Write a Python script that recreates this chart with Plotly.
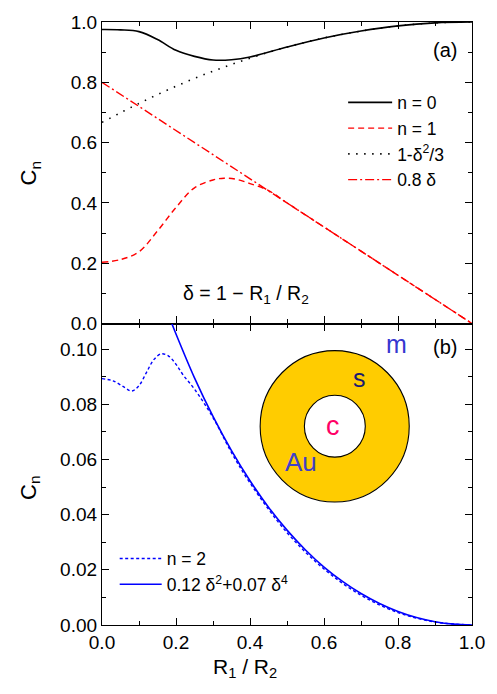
import plotly.graph_objects as go
from plotly.subplots import make_subplots

# ---- data ----
x_n0 = [0, 0.05, 0.1, 0.15, 0.2, 0.25, 0.3, 0.35, 0.4, 0.5, 0.6, 0.7, 0.8, 0.9, 1.0]
y_n0 = [0.975, 0.974, 0.968, 0.942, 0.906, 0.886, 0.874, 0.875, 0.884, 0.917, 0.947, 0.970, 0.987, 0.997, 1.0]

x_n1 = [0, 0.05, 0.1, 0.15, 0.2, 0.25, 0.3, 0.33, 0.36, 0.4, 0.45, 0.5, 0.6, 0.7, 0.8, 0.9, 1.0]
y_n1 = [0.203, 0.212, 0.238, 0.307, 0.385, 0.450, 0.476, 0.482, 0.479, 0.464, 0.441, 0.400, 0.320, 0.240, 0.160, 0.080, 0.0]

x_par = [0, 0.1, 0.2, 0.3, 0.4, 0.5, 0.6, 0.7, 0.8, 0.9, 1.0]
y_par = [0.667, 0.730, 0.787, 0.837, 0.880, 0.917, 0.947, 0.970, 0.987, 0.997, 1.0]

x_lin = [0, 1.0]
y_lin = [0.8, 0.0]

x_n2 = [0, 0.03, 0.06, 0.08, 0.1, 0.12, 0.14, 0.16, 0.18, 0.2, 0.22, 0.25, 0.3, 0.35,
        0.4, 0.5, 0.6, 0.7, 0.8, 0.9, 1.0]
y_n2 = [0.0893, 0.0885, 0.0862, 0.0848, 0.0868, 0.0915, 0.0962, 0.0983, 0.0975, 0.0945,
        0.0905, 0.0855, 0.0752, 0.0625, 0.0515, 0.0335, 0.0203, 0.0108, 0.0045, 0.0011, 0.0]

x_fit = [0.18, 0.2, 0.25, 0.3, 0.35, 0.4, 0.45, 0.5, 0.55, 0.6, 0.65, 0.7, 0.75, 0.8,
         0.85, 0.9, 0.95, 1.0]
y_fit = [0.1123, 0.1055, 0.0896, 0.0756, 0.0632, 0.0523, 0.0427, 0.0344, 0.0272, 0.0210,
         0.0158, 0.0114, 0.0078, 0.0049, 0.0027, 0.0012, 0.0003, 0.0]

x_ticks = [0.0, 0.2, 0.4, 0.6, 0.8, 1.0]
ya_ticks = [0.0, 0.2, 0.4, 0.6, 0.8, 1.0]
yb_ticks = [0.00, 0.02, 0.04, 0.06, 0.08, 0.10]

FONT = "Liberation Sans, Arial, Helvetica, sans-serif"

fig = make_subplots(rows=2, cols=1, shared_xaxes=True, vertical_spacing=0)

fig.add_trace(go.Scatter(x=x_n0, y=y_n0, mode="lines", name="n = 0",
                         line=dict(color="black", width=1.6, shape="spline"),
                         legend="legend"), row=1, col=1)
fig.add_trace(go.Scatter(x=x_n1, y=y_n1, mode="lines", name="n = 1",
                         line=dict(color="#ff0000", width=1.4, dash="6px,4px", shape="spline"),
                         legend="legend"), row=1, col=1)
fig.add_trace(go.Scatter(x=x_par, y=y_par, mode="lines", name="1-δ<sup>2</sup>/3",
                         line=dict(color="black", width=1.6, dash="1.5px,6.5px", shape="spline"),
                         legend="legend"), row=1, col=1)
fig.add_trace(go.Scatter(x=x_lin, y=y_lin, mode="lines", name="0.8 δ",
                         line=dict(color="#ff0000", width=1.4, dash="9px,3px,2px,3px"),
                         legend="legend"), row=1, col=1)

fig.add_trace(go.Scatter(x=x_n2, y=y_n2, mode="lines", name="n = 2",
                         line=dict(color="#0000ff", width=1.4, dash="3px,2.5px", shape="spline"),
                         legend="legend2"), row=2, col=1)
fig.add_trace(go.Scatter(x=x_fit, y=y_fit, mode="lines", name="0.12 δ<sup>2</sup>+0.07 δ<sup>4</sup>",
                         line=dict(color="#0000ff", width=1.6, shape="spline"),
                         legend="legend2"), row=2, col=1)

axis_common = dict(showline=True, linecolor="black", linewidth=1.3, mirror="allticks",
                   ticks="inside", ticklen=7, tickwidth=1.2, tickcolor="black",
                   showgrid=False, zeroline=False,
                   tickfont=dict(family=FONT, size=19, color="black"))

fig.update_xaxes(**axis_common, range=[0, 1], tickvals=x_ticks,
                 minor=dict(dtick=0.1, ticks="inside", ticklen=4, tickwidth=1.1, tickcolor="black"))
fig.update_xaxes(showticklabels=False, row=1, col=1)
fig.update_xaxes(tickformat=".1f", row=2, col=1)

fig.update_yaxes(**axis_common)
fig.update_yaxes(range=[0, 1.0], tickvals=ya_ticks, tickformat=".1f",
                 minor=dict(dtick=0.1, ticks="inside", ticklen=4, tickwidth=1.1, tickcolor="black"),
                 row=1, col=1)
fig.update_yaxes(range=[0, 0.1093], tickvals=yb_ticks, tickformat=".2f",
                 minor=dict(dtick=0.01, ticks="inside", ticklen=4, tickwidth=1.1, tickcolor="black"),
                 row=2, col=1)

fig.update_layout(yaxis=dict(domain=[0.5, 1.0]), yaxis2=dict(domain=[0.0, 0.5]))

# geometry helpers (pixel -> paper)
L, R, T, B, W, H = 102, 16, 17, 69, 497, 694
PW, PH = W - L - R, H - T - B
def px(xp):
    return (xp - L) / PW
def py(yp):
    return (H - B - yp) / PH

fig.update_layout(
    width=W, height=H,
    margin=dict(l=L, r=R, t=T, b=B, pad=0),
    paper_bgcolor="white", plot_bgcolor="white",
    font=dict(family=FONT, size=17, color="black"),
    legend=dict(x=px(349), y=py(80), xanchor="left", yanchor="top",
                bgcolor="rgba(0,0,0,0)", borderwidth=0, itemwidth=44,
                font=dict(family=FONT, size=17.5), tracegroupgap=0),
    legend2=dict(x=px(115), y=py(540), xanchor="left", yanchor="top",
                 bgcolor="rgba(0,0,0,0)", borderwidth=0, itemwidth=42,
                 font=dict(family=FONT, size=17.5), tracegroupgap=0),
)

# inset drawing: core-shell sphere
fig.add_shape(type="circle", xref="paper", yref="paper",
              x0=px(264), x1=px(416.7), y0=py(501), y1=py(348.3),
              fillcolor="#ffcc00", line=dict(color="black", width=1.1), layer="below")
fig.add_shape(type="circle", xref="paper", yref="paper",
              x0=px(309.3), x1=px(371.7), y0=py(455.7), y1=py(393.3),
              fillcolor="white", line=dict(color="black", width=1.1), layer="below")

annots = [
    dict(text="(a)", x=px(453), y=py(45), size=20, color="black"),
    dict(text="(b)", x=px(453), y=py(345), size=20, color="black"),
    dict(text="δ = 1 − R<sub>1</sub> / R<sub>2</sub>", x=px(250), y=py(292), size=19.5, color="black"),
    dict(text="m", x=px(404), y=py(342), size=25, color="#3636d0"),
    dict(text="s", x=px(366), y=py(376), size=25, color="#1a1a70"),
    dict(text="c", x=px(339), y=py(424), size=27, color="#ff0066"),
    dict(text="Au", x=px(306), y=py(461), size=26, color="#4040c8"),
    dict(text="R<sub>1</sub> / R<sub>2</sub>", x=px(248), y=py(668), size=21, color="black"),
]
for a in annots:
    fig.add_annotation(text=a["text"], x=a["x"], y=a["y"], xref="paper", yref="paper",
                       showarrow=False, xanchor="center", yanchor="middle",
                       font=dict(family=FONT, size=a["size"], color=a["color"]))

for yc in (170, 487):
    fig.add_annotation(text="C<sub>n</sub>", x=px(28), y=py(yc), xref="paper", yref="paper",
                       showarrow=False, xanchor="center", yanchor="middle", textangle=-90,
                       font=dict(family=FONT, size=22, color="black"))

fig.write_html("out.html")
